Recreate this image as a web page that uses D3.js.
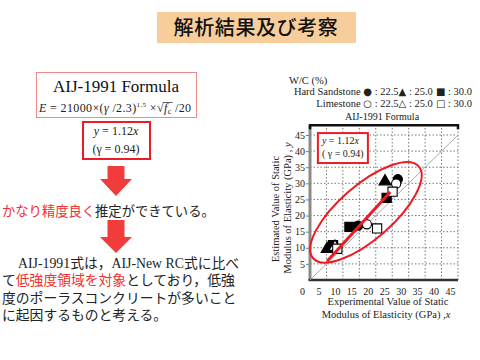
<!DOCTYPE html>
<html>
<head>
<meta charset="utf-8">
<script src="https://cdn.jsdelivr.net/npm/d3@7"></script>
<style>
  body { margin: 0; background: #fff; }
  svg text { font-family: "Liberation Serif", "Times New Roman", serif; }
  .jp { font-family: "Noto Sans CJK JP", sans-serif; }
</style>
</head>
<body>
<div id="slide"></div>
<script>
'use strict';

// ---- data ----
const xTicks = [0, 5, 10, 15, 20, 25, 30, 35, 40, 45]
const yTicks = [5, 10, 15, 20, 25, 30, 35, 40, 45]
const wcLevels = ['22.5', '25.0', '30.0']

// [experimental x, estimated y]
const hardWc225 = [[26.7, 31.3], [14.6, 16.9]]
const hardWc250 = [[22.8, 30.6], [5.2, 9.6]]
const hardWc300 = [[23.3, 25.5], [12.0, 16.5], [7.0, 10.8]]
const limeWc225 = [[26.2, 29.9], [17.3, 17.3]]
const limeWc250 = [[7.6, 10.3]]
const limeWc300 = [[25.1, 27.4], [20.4, 16.0], [8.3, 9.7]]

const fitSlope = 1.12
const fitFrom = 5.2, fitTo = 24.4
const rValue = 0.94

const width = 480, height = 360
const red = '#ec1c24'

const svg = d3.select('#slide').append('svg')
    .attr('width', width)
    .attr('height', height)
    .attr('viewBox', `0 0 ${width} ${height}`)

// ---- title ----
svg.append('rect')
    .attr('x', 157).attr('y', 12).attr('width', 199).attr('height', 31)
    .attr('fill', '#f7cd9c')
svg.append('text')
    .attr('class', 'jp')
    .attr('x', 256).attr('y', 35)
    .attr('text-anchor', 'middle')
    .attr('font-size', 20)
    .attr('font-weight', 500)
    .attr('letter-spacing', 0.6)
    .attr('fill', '#111')
    .text('解析結果及び考察')

// ---- left column: formula box ----
svg.append('rect')
    .attr('x', 36.5).attr('y', 72.5).attr('width', 160).attr('height', 45)
    .attr('fill', 'none').attr('stroke', '#f08a8a').attr('stroke-width', 1)
svg.append('text')
    .attr('x', 116).attr('y', 92)
    .attr('text-anchor', 'middle')
    .attr('font-size', 17)
    .attr('fill', '#111')
    .text('AIJ-1991 Formula')

const formula = svg.append('text')
    .attr('x', 39).attr('y', 112)
    .attr('font-size', 12)
    .attr('fill', '#222')
    .attr('textLength', 152)
    .attr('lengthAdjust', 'spacing')
formula.append('tspan').attr('font-style', 'italic').text('E')
formula.append('tspan').text(' = 21000×(')
formula.append('tspan').attr('font-style', 'italic').text('γ')
formula.append('tspan').text(' /2.3)')
formula.append('tspan').attr('font-size', 7).attr('dy', -5).text('1.5')
formula.append('tspan').attr('dy', 5).text(' ×√')
const fT = formula.append('tspan').attr('font-style', 'italic').text('f')
const cT = formula.append('tspan').attr('font-size', 8).attr('dy', 2).text('c')
formula.append('tspan').attr('dy', -2).text(' /20')
// overbar of the root
const fb = fT.node().getBBox(), cb = cT.node().getBBox()
svg.append('line')
    .attr('x1', fb.x - 1).attr('x2', cb.x + cb.width + 1)
    .attr('y1', fb.y + 1.5).attr('y2', fb.y + 1.5)
    .attr('stroke', '#222').attr('stroke-width', 0.7)

const fitBoxL = svg.append('g')
fitBoxL.append('rect')
    .attr('x', 83).attr('y', 122).attr('width', 67).attr('height', 37)
    .attr('fill', 'none').attr('stroke', red).attr('stroke-width', 2)
const fitL1 = fitBoxL.append('text')
    .attr('x', 116).attr('y', 135).attr('text-anchor', 'middle')
    .attr('font-size', 12).attr('fill', '#222')
fitL1.append('tspan').attr('font-style', 'italic').text('y')
fitL1.append('tspan').text(` = ${fitSlope}`)
fitL1.append('tspan').attr('font-style', 'italic').text('x')
fitBoxL.append('text')
    .attr('x', 116).attr('y', 153).attr('text-anchor', 'middle')
    .attr('font-size', 12).attr('fill', '#222')
    .text(`(γ = ${rValue})`)

// ---- arrows ----
const arrow = (top, headTop, tip) => {
    const cx = 116
    return `M${cx - 8.5},${top} H${cx + 8.5} V${headTop} H${cx + 16} L${cx},${tip} L${cx - 16},${headTop} H${cx - 8.5} Z`
}
svg.append('path').attr('d', arrow(166, 179, 196)).attr('fill', '#f23b3b')
svg.append('path').attr('d', arrow(220, 237, 253)).attr('fill', '#f23b3b')

// ---- left column: texts ----
const serifStyle = 'font-family:"Liberation Serif",serif'
const note = svg.append('text').attr('class', 'jp')
    .attr('x', 2).attr('y', 216).attr('font-size', 13.3)
note.append('tspan').attr('fill', '#f03030').text('かなり精度良く')
note.append('tspan').attr('fill', '#222').text('推定ができている。')

// paragraph: [text, colour, serif?] parts per line
const paraLines = [
    { x: 18, parts: [['AIJ-1991', null, 1], ['式は，'], ['AIJ-New RC', null, 1], ['式に比べ']] },
    { x: 2, parts: [['て'], ['低強度領域を対象', '#f03030'], ['としており，低強']] },
    { x: 2, parts: [['度のポーラスコンクリートが多いこと']] },
    { x: 2, parts: [['に起因するものと考える。']] }
]
const para = svg.append('text').attr('class', 'jp')
    .attr('x', 2).attr('y', 268).attr('font-size', 13.8)
paraLines.forEach((line, li) => {
    line.parts.forEach((p, pi) => {
        const s = para.append('tspan').text(p[0]).attr('fill', p[1] || '#222')
        if (p[2]) s.attr('style', serifStyle)
        if (pi === 0) s.attr('x', line.x).attr('y', 268 + li * 17.3)
    })
})

// ---- chart ----
const x = d3.scaleLinear().domain([0, 45]).range([310, 458])
const y = d3.scaleLinear().domain([0, 45]).range([280, 135])
const plotTop = y(48)

const chart = svg.append('g')

// grid
chart.append('g').selectAll('line')
    .data(xTicks.filter(d => d > 0))
    .join('line')
    .attr('x1', d => x(d)).attr('x2', d => x(d))
    .attr('y1', y(0)).attr('y2', plotTop)
    .attr('stroke', '#555').attr('stroke-width', 0.8)
    .attr('stroke-dasharray', '1.5,2')
chart.append('g').selectAll('line')
    .data(yTicks)
    .join('line')
    .attr('x1', x(0)).attr('x2', x(45))
    .attr('y1', d => y(d)).attr('y2', d => y(d))
    .attr('stroke', '#555').attr('stroke-width', 0.8)
    .attr('stroke-dasharray', '1.5,2')

// axes
const yAxis = chart.append('g')
    .attr('transform', `translate(${x(0)},0)`)
    .call(d3.axisLeft(y).tickValues(yTicks).tickSize(4).tickPadding(1))
yAxis.select('.domain').remove()
yAxis.selectAll('text').attr('font-size', 10).attr('fill', '#222')
yAxis.selectAll('line').attr('stroke', '#777')

const xAxis = chart.append('g')
    .attr('transform', `translate(0,${y(0)})`)
    .call(d3.axisBottom(x).tickValues(xTicks).tickSize(0).tickPadding(8))
xAxis.select('.domain').remove()
xAxis.selectAll('text').attr('font-size', 10).attr('fill', '#222')
    .attr('dx', -8)

chart.append('line')
    .attr('x1', x(0)).attr('x2', x(0)).attr('y1', y(0)).attr('y2', plotTop)
    .attr('stroke', '#8a8a8a').attr('stroke-width', 3)
chart.append('line')
    .attr('x1', x(0) - 1.5).attr('x2', x(45)).attr('y1', y(0)).attr('y2', y(0))
    .attr('stroke', '#333').attr('stroke-width', 2.5)

// top bracket with label
chart.append('path')
    .attr('d', `M${x(0)},${plotTop + 4} V${plotTop} H${x(45)} V${plotTop + 4}`)
    .attr('fill', 'none').attr('stroke', '#111').attr('stroke-width', 2.5)
chart.append('text')
    .attr('x', (x(0) + x(45)) / 2 - 2).attr('y', 119.5)
    .attr('text-anchor', 'middle').attr('font-size', 10).attr('fill', '#222')
    .text('AIJ-1991 Formula')

// y = x reference
chart.append('line')
    .attr('x1', x(0)).attr('y1', y(0)).attr('x2', x(45)).attr('y2', y(45))
    .attr('stroke', '#aaa').attr('stroke-width', 1)

// markers
const series = [
    { data: hardWc225, type: d3.symbolCircle, size: 66, filled: true },
    { data: hardWc250, type: d3.symbolTriangle, size: 62, filled: true },
    { data: hardWc300, type: d3.symbolSquare, size: 85, filled: true },
    { data: limeWc225, type: d3.symbolCircle, size: 66, filled: false },
    { data: limeWc250, type: d3.symbolTriangle, size: 62, filled: false },
    { data: limeWc300, type: d3.symbolSquare, size: 85, filled: false }
]
series.forEach(s => {
    chart.append('g').selectAll('path')
        .data(s.data)
        .join('path')
        .attr('transform', d => `translate(${x(d[0])},${y(d[1])})`)
        .attr('d', d3.symbol().type(s.type).size(s.size))
        .attr('fill', s.filled ? '#000' : '#fff')
        .attr('stroke', '#000').attr('stroke-width', 1.1)
})

// regression line y = 1.12x
chart.append('line')
    .attr('x1', x(fitFrom)).attr('y1', y(fitSlope * fitFrom))
    .attr('x2', x(fitTo)).attr('y2', y(fitSlope * fitTo))
    .attr('stroke', red).attr('stroke-width', 3)

// hand drawn ellipse around the data
const ecx = x(17), ecy = y(21)
chart.append('ellipse')
    .attr('cx', 0).attr('cy', 0).attr('rx', 70).attr('ry', 27)
    .attr('transform', `translate(${ecx},${ecy}) rotate(-41)`)
    .attr('fill', 'none').attr('stroke', red).attr('stroke-width', 2)

// fit box in chart
chart.append('rect')
    .attr('x', x(2.4)).attr('y', y(45.6))
    .attr('width', x(17.6) - x(2.4)).attr('height', y(36.3) - y(45.6))
    .attr('fill', '#fff').attr('stroke', red).attr('stroke-width', 2)
const fitC1 = chart.append('text')
    .attr('x', x(2.4) + 4).attr('y', y(45.6) + 11)
    .attr('font-size', 10).attr('fill', '#222')
fitC1.append('tspan').attr('font-style', 'italic').text('y')
fitC1.append('tspan').text(` = ${fitSlope}`)
fitC1.append('tspan').attr('font-style', 'italic').text('x')
chart.append('text')
    .attr('x', x(2.4) + 4).attr('y', y(45.6) + 24)
    .attr('font-size', 10).attr('fill', '#222')
    .text(`( γ = ${rValue})`)

// axis titles
chart.append('text')
    .attr('x', 388).attr('y', 305).attr('text-anchor', 'middle')
    .attr('font-size', 10.5).attr('fill', '#222')
    .text('Experimental Value of Static')
const xt2 = chart.append('text')
    .attr('x', 386).attr('y', 318).attr('text-anchor', 'middle')
    .attr('font-size', 10.5).attr('fill', '#222')
xt2.append('tspan').text('Modulus of Elasticity (GPa) ,')
xt2.append('tspan').attr('font-style', 'italic').text('x')

chart.append('text')
    .attr('transform', 'translate(279,209) rotate(-90)')
    .attr('text-anchor', 'middle')
    .attr('font-size', 10.5).attr('fill', '#222')
    .text('Estimated Value of Static')
const yt2 = chart.append('text')
    .attr('transform', 'translate(291,208) rotate(-90)')
    .attr('text-anchor', 'middle')
    .attr('font-size', 10.5).attr('fill', '#222')
yt2.append('tspan').text('Modulus of Elasticity (GPa) , ')
yt2.append('tspan').attr('font-style', 'italic').text('y')

// legend
svg.append('text')
    .attr('x', 289).attr('y', 84)
    .attr('font-size', 10.5).attr('fill', '#222')
    .text('W/C (%)')
const legRow = (yy, name, marks) => {
    const t = svg.append('text')
        .attr('x', 472).attr('y', yy).attr('text-anchor', 'end')
        .attr('font-size', 10.5).attr('fill', '#222')
    t.append('tspan').text(name + ' ')
    marks.forEach((m, i) => {
        t.append('tspan').attr('font-family', '"DejaVu Sans", sans-serif')
            .attr('font-size', 10).text(m)
        t.append('tspan').text(` : ${wcLevels[i]}`)
    })
}
legRow(94.5, 'Hard Sandstone', ['●', '▲', ' ■'])
legRow(106.5, 'Limestone', ['○', '△', ' □'])
</script>
</body>
</html>
